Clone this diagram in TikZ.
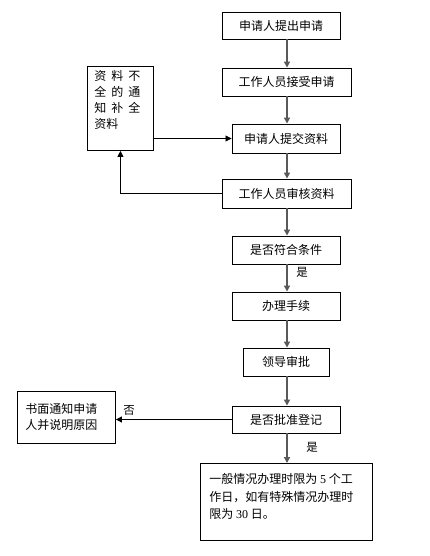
\documentclass[tikz,border=0pt]{standalone}
\usepackage{fontspec}
\setmainfont{Liberation Serif}
\newfontfamily\cjk{Noto Sans CJK SC}
\usetikzlibrary{arrows.meta}
\tikzset{
  box/.style={draw=black, line width=0.9pt, inner sep=0pt, font=\cjk\fontsize{12}{16}\selectfont},
  vline/.style={draw=black!65, line width=1.6pt, -{Triangle[width=6pt,length=6pt]}, shorten >=0pt},
  hline/.style={draw=black, line width=0.8pt, -{Triangle[width=6pt,length=6pt]}},
  lbl/.style={font=\cjk\fontsize{11.5}{13}\selectfont, inner sep=0pt}
}
\begin{document}
\begin{tikzpicture}[x=1pt,y=-1pt]
\useasboundingbox[fill=white] (0,0) rectangle (430,556);
\coordinate (col) at (287,0);
\node[box, minimum width=118pt, minimum height=27pt] (b1) at (281,25.5) {申请人提出申请};
\node[box, minimum width=129pt, minimum height=28pt] (b2) at (286.5,82) {工作人员接受申请};
\node[box, minimum width=108pt, minimum height=29pt] (b3) at (286,138.5) {申请人提交资料};
\node[box, minimum width=129pt, minimum height=29pt] (b4) at (286.5,193.5) {工作人员审核资料};
\node[box, minimum width=66pt, minimum height=84pt, anchor=north west] (b5) at (87,66)
  {\parbox[t][84pt][t]{60pt}{\vspace{4pt}\hspace*{4pt}资\hspace{5pt}料\hspace{5pt}不\\[0pt]\hspace*{4pt}全\hspace{5pt}的\hspace{5pt}通\\\hspace*{4pt}知\hspace{5pt}补\hspace{5pt}全\\\hspace*{4pt}资料}};
\node[box, minimum width=108pt, minimum height=28pt] (b6) at (286,250) {是否符合条件};
\node[box, minimum width=108pt, minimum height=28pt] (b7) at (286,306) {办理手续};
\node[box, minimum width=86pt, minimum height=28pt] (b8) at (286,362) {领导审批};
\node[box, minimum width=108pt, minimum height=27pt] (b9) at (286,419.5) {是否批准登记};
\node[box, minimum width=98pt, minimum height=52pt, anchor=north west] (b10) at (17,391)
  {\parbox[t][52pt][c]{92pt}{\hspace*{5pt}书面通知申请\\\hspace*{5pt}人并说明原因}};
\node[box, minimum width=172pt, minimum height=77pt, anchor=north west] (b11) at (200,463)
  {\parbox[t][77pt][t]{166pt}{\vspace{10pt}\fontsize{12}{17.5}\selectfont\hspace*{6pt}一般情况办理时限为 {\rmfamily 5} 个工\\\hspace*{6pt}作日，如有特殊情况办理时\\\hspace*{6pt}限为 {\rmfamily 30} 日。}};
\draw[vline] (b1.south -| col) -- (b2.north -| col);
\draw[vline] (b2.south -| col) -- (b3.north -| col);
\draw[vline] (b3.south -| col) -- (b4.north -| col);
\draw[vline] (b4.south -| col) -- (b6.north -| col);
\draw[vline] (b6.south -| col) -- (b7.north -| col);
\draw[vline] (b7.south -| col) -- (b8.north -| col);
\draw[vline] (b8.south -| col) -- (b9.north -| col);
\draw[vline] (b9.south -| col) -- (b11.north -| col);
\draw[hline] (b3.west -| b5.east) -- (b3.west);
\draw[hline] (b4.west) -| (b5.south);
\draw[hline] (b9.west) -- (b9.west -| b10.east);
\node[lbl] (l1) at (302,272) {是};
\node[lbl] (l2) at (312,447) {是};
\node[lbl] (l3) at (129,410) {否};
\end{tikzpicture}
\end{document}
